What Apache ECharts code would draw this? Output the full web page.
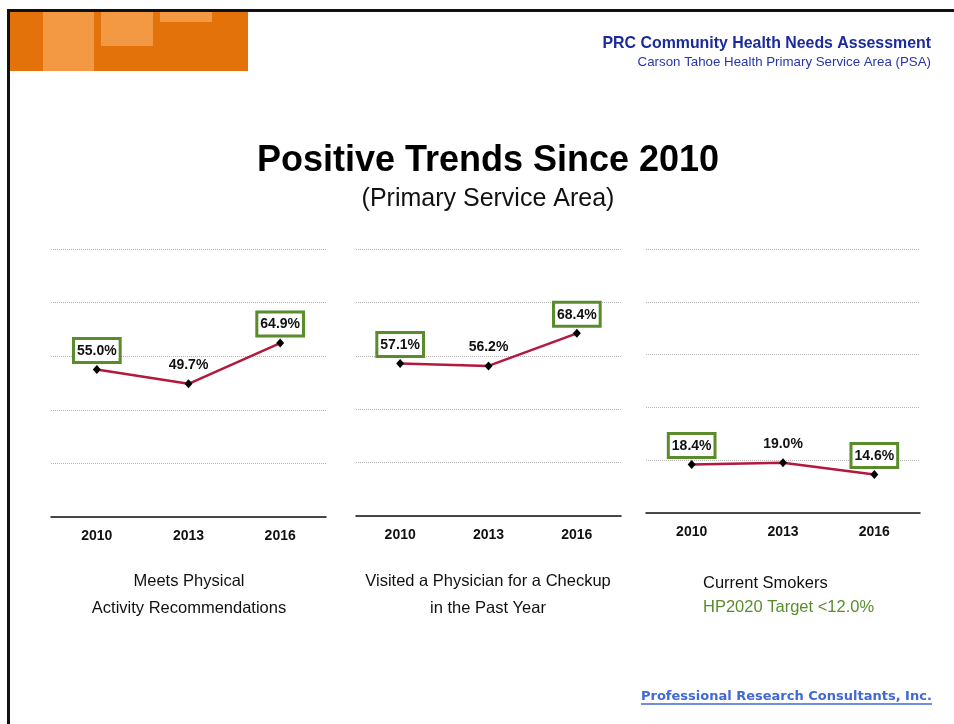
<!DOCTYPE html>
<html>
<head>
<meta charset="utf-8">
<script src="https://cdn.jsdelivr.net/npm/echarts@6/dist/echarts.min.js"></script>
<style>
  html, body { margin: 0; padding: 0; background: #fff; }
  #chart { width: 954px; height: 724px; }
</style>
</head>
<body>
<div id="chart"></div>
<script>
// ---- Data ----
const years = ['2010', '2013', '2016'];
const physicalActivity = [55.0, 49.7, 64.9];
const physicianCheckup = [57.1, 56.2, 68.4];
const currentSmokers = [18.4, 19.0, 14.6];
const highlighted = [true, false, true];
const yMin = 0;
const yMax = 100;
const yStep = 20;
const panelTitles = [
  ['Meets Physical', 'Activity Recommendations'],
  ['Visited a Physician for a Checkup', 'in the Past Year'],
  ['Current Smokers', 'HP2020 Target <12.0%']
];
const pageTitle = 'Positive Trends Since 2010';
const pageSubtitle = '(Primary Service Area)';
const headerLine1 = 'PRC Community Health Needs Assessment';
const headerLine2 = 'Carson Tahoe Health Primary Service Area (PSA)';
const logoText = 'Professional Research Consultants, Inc.';

// ---- Styles ----
const SANS = '"Liberation Sans", Arial, sans-serif';
const GREEN = '#5b8c2c';
const LINE_RED = '#b3183d';

const seriesValues = [physicalActivity, physicianCheckup, currentSmokers];
const grids = [
  { left: 51, top: 249, width: 275, height: 268 },
  { left: 356, top: 249, width: 265, height: 267 },
  { left: 646, top: 249, width: 274, height: 264 }
];

const labelBase = {
  show: true, position: 'top', distance: 4,
  fontFamily: SANS, fontSize: 14, fontWeight: 'bold', color: '#111',
  lineHeight: 16, padding: [3, 2, 2, 2],
  formatter: p => p.value.toFixed(1) + '%'
};
const boxLabel = Object.assign({}, labelBase, {
  backgroundColor: '#fff', borderColor: GREEN, borderWidth: 3
});
const plainLabel = Object.assign({}, labelBase);

const option = {
  animation: false,
  backgroundColor: '#fff',
  grid: grids.map(g => Object.assign({ containLabel: false }, g)),
  xAxis: grids.map((g, i) => ({
    type: 'category', gridIndex: i, data: years, boundaryGap: true,
    axisTick: { show: false },
    axisLine: { show: true, lineStyle: { color: '#111', width: 1.5 } },
    axisLabel: { fontFamily: SANS, fontSize: 14, fontWeight: 'bold', color: '#111', margin: 12 },
    splitLine: { show: false }
  })),
  yAxis: grids.map((g, i) => ({
    type: 'value', gridIndex: i, min: yMin, max: yMax, interval: yStep,
    axisLabel: { show: false }, axisTick: { show: false }, axisLine: { show: false },
    splitLine: { show: true, lineStyle: { color: '#b4b4b4', type: 'dotted', width: 1 } }
  })),
  series: seriesValues.map((vals, i) => ({
    type: 'line', xAxisIndex: i, yAxisIndex: i,
    symbol: 'diamond', symbolSize: [8, 9],
    itemStyle: { color: '#000' },
    lineStyle: { color: LINE_RED, width: 2.5 },
    data: vals.map((v, j) => ({ value: v, label: highlighted[j] ? boxLabel : plainLabel })),
    z: 3
  })),
  graphic: [
    // Orange header block
    { type: 'rect', shape: { x: 10, y: 12, width: 238, height: 59 }, style: { fill: '#e3720b' } },
    { type: 'rect', shape: { x: 43, y: 12, width: 51, height: 59 }, style: { fill: '#f39843' } },
    { type: 'rect', shape: { x: 101, y: 12, width: 52, height: 34 }, style: { fill: '#f39843' } },
    { type: 'rect', shape: { x: 160, y: 12, width: 52, height: 10 }, style: { fill: '#f39843' } },
    // Frame
    { type: 'polyline', shape: { points: [[8.5, 724], [8.5, 10.5], [954, 10.5]] },
      style: { stroke: '#111', lineWidth: 3, fill: null } },
    // Header texts
    { type: 'text', x: 931, y: 44, style: { text: headerLine1, font: 'bold 15.9px ' + SANS, fill: '#1b2a9c', align: 'right', verticalAlign: 'middle' } },
    { type: 'text', x: 931, y: 62, style: { text: headerLine2, font: '13.3px ' + SANS, fill: '#2636ac', align: 'right', verticalAlign: 'middle' } },
    // Title
    { type: 'text', x: 488, y: 161, style: { text: pageTitle, font: 'bold 36px ' + SANS, fill: '#000', align: 'center', verticalAlign: 'middle' } },
    { type: 'text', x: 488, y: 199, style: { text: pageSubtitle, font: '25px ' + SANS, fill: '#111', align: 'center', verticalAlign: 'middle' } },
    // Panel titles
    { type: 'text', x: 189, y: 581, style: { text: panelTitles[0][0], font: '16.5px ' + SANS, fill: '#111', align: 'center', verticalAlign: 'middle' } },
    { type: 'text', x: 189, y: 608, style: { text: panelTitles[0][1], font: '16.5px ' + SANS, fill: '#111', align: 'center', verticalAlign: 'middle' } },
    { type: 'text', x: 488, y: 581, style: { text: panelTitles[1][0], font: '16.5px ' + SANS, fill: '#111', align: 'center', verticalAlign: 'middle' } },
    { type: 'text', x: 488, y: 608, style: { text: panelTitles[1][1], font: '16.5px ' + SANS, fill: '#111', align: 'center', verticalAlign: 'middle' } },
    { type: 'text', x: 703, y: 583, style: { text: panelTitles[2][0], font: '16.5px ' + SANS, fill: '#111', align: 'left', verticalAlign: 'middle' } },
    { type: 'text', x: 703, y: 607, style: { text: panelTitles[2][1], font: '16.5px ' + SANS, fill: GREEN, align: 'left', verticalAlign: 'middle' } },
    // Logo
    { type: 'text', x: 641, y: 697, style: { text: logoText, font: 'bold 13px "DejaVu Sans", sans-serif', fill: '#4068d6', align: 'left', verticalAlign: 'middle' } },
    { type: 'line', shape: { x1: 641, y1: 704, x2: 932, y2: 704 }, style: { stroke: '#4068d6', lineWidth: 1.5 } }
  ]
};

const chart = echarts.init(document.getElementById('chart'), null, { renderer: 'canvas' });
chart.setOption(option);
</script>
</body>
</html>
